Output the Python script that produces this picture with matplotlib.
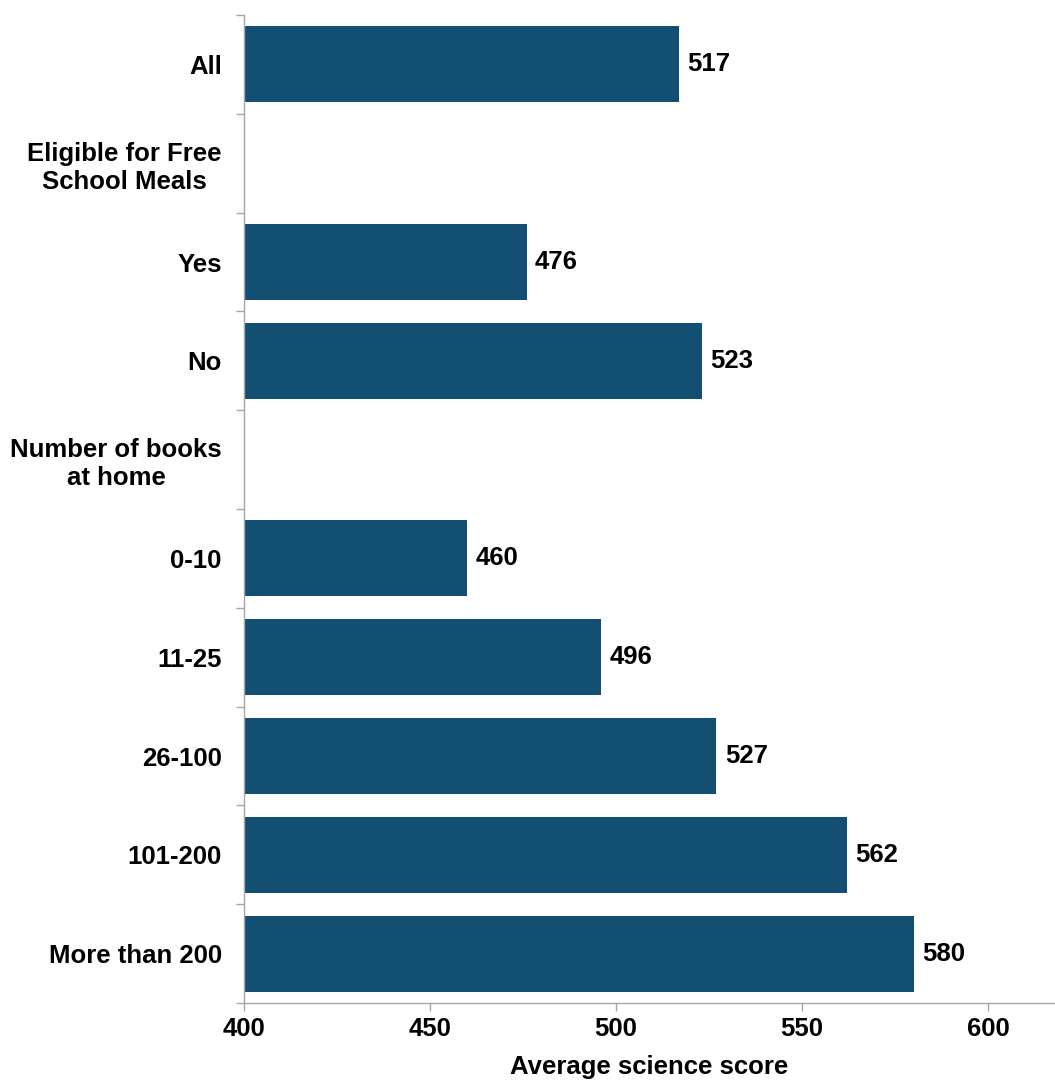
import numpy as np
import matplotlib.pyplot as plt

categories = ['All', 'Eligible for Free\nSchool Meals', 'Yes', 'No',
              'Number of books\nat home', '0-10', '11-25', '26-100',
              '101-200', 'More than 200']
scores = [517, None, 476, 523, None, 460, 496, 527, 562, 580]
xticks = [400, 450, 500, 550, 600]

plt.rcParams['font.family'] = ['Liberation Sans', 'DejaVu Sans']
plt.rcParams['font.weight'] = 'bold'

BAR_COLOR = '#124F72'
SPINE_COLOR = '#A6A6A6'
FS = 18.5

fig = plt.figure(figsize=(10.55, 10.8), dpi=100)
ax = fig.add_axes([0.2313, 0.0713, 0.7687, 0.9148])

ypos = np.arange(len(categories))
for y, v in zip(ypos, scores):
    if v is None:
        continue
    ax.barh(y, v - 400, left=400, height=0.77, color=BAR_COLOR)
    ax.annotate(str(v), (v, y), xytext=(6, 0), textcoords='offset points',
                va='center', ha='left', fontsize=FS, fontweight='bold',
                color='black')

ax.set_xlim(400, 618)
ax.set_ylim(len(categories) - 0.5, -0.5)
ax.set_xticks(xticks)
ax.set_xticklabels([str(t) for t in xticks], fontsize=FS, fontweight='bold')
ax.set_yticks(ypos)
ax.set_yticklabels(categories, fontsize=FS, fontweight='bold',
                   multialignment='center')
ax.set_yticks(np.arange(-0.5, len(categories)), minor=True)

ax.tick_params(axis='y', which='major', length=0, pad=16)
ax.tick_params(axis='y', which='minor', length=6, color=SPINE_COLOR, width=1)
ax.tick_params(axis='x', length=6, color=SPINE_COLOR, width=1, pad=4)

for s in ['top', 'right']:
    ax.spines[s].set_visible(False)
for s in ['left', 'bottom']:
    ax.spines[s].set_color(SPINE_COLOR)
    ax.spines[s].set_linewidth(1)

ax.set_xlabel('Average science score', fontsize=FS, fontweight='bold',
              labelpad=10)

fig.savefig('out.png', dpi=100)
